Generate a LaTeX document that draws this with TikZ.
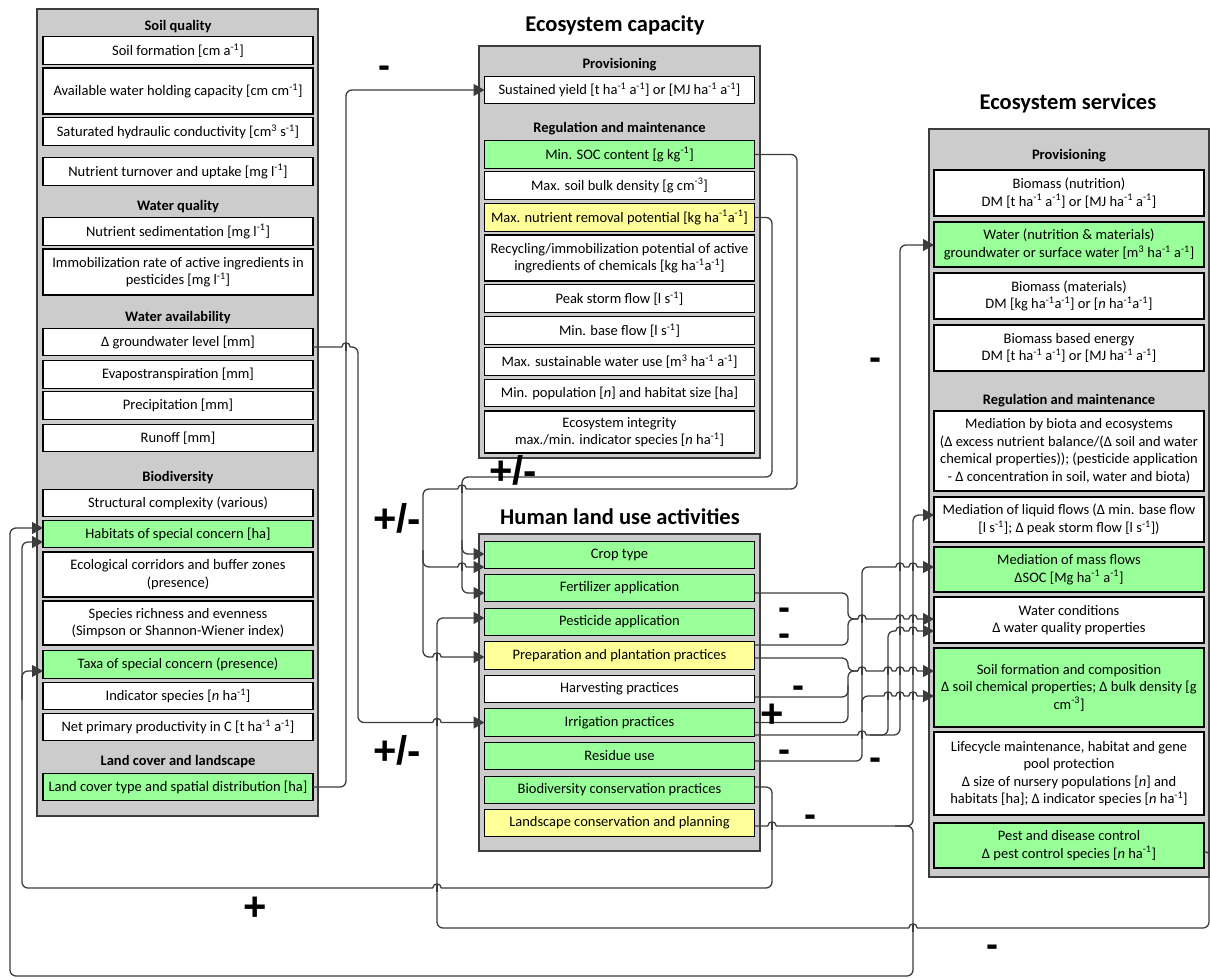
\documentclass[tikz,border=0pt]{standalone}
\usepackage{fontspec}
\setmainfont{Carlito}
\newfontfamily\signfont{Liberation Sans}
\usetikzlibrary{arrows.meta,calc}
\definecolor{grn}{HTML}{99FF99}
\definecolor{ylw}{HTML}{FFFF99}
\definecolor{pnl}{HTML}{CCCCCC}
\definecolor{ln}{HTML}{3C3C3C}
\newcommand{\supm}[1]{\textsuperscript{-#1}}
\newcommand{\supp}[1]{\textsuperscript{#1}}
% line jump: the horizontal line hops over a vertical one at (x,y)
\newcommand{\hop}[2]{%
  \draw[white, line width=3pt] ({#1-3.6},#2) -- ({#1+3.6},#2);
  \draw[conn, rounded corners=0pt] (#1,{#2-3.5}) -- (#1,{#2+3.5});
  \draw[conn, rounded corners=0pt] ({#1-4.2},#2) .. controls ({#1-4.2},{#2-5.5}) and ({#1+4.2},{#2-5.5}) .. ({#1+4.2},#2);}
\begin{document}
\begin{tikzpicture}[x=1pt,y=-1pt,
  box/.style={draw=black, fill=white, line width=1.3pt, minimum width=270pt,
    inner xsep=2pt, inner ysep=0pt, outer sep=0pt, align=center,
    font=\fontsize{14.5}{17.5}\selectfont},
  hdr/.style={font=\bfseries\fontsize{14.5}{17.5}\selectfont, inner sep=0pt},
  ttl/.style={font=\bfseries\fontsize{22.5}{26}\selectfont, inner sep=0pt},
  panel/.style={draw=ln, fill=pnl, line width=1.2pt, inner sep=0pt, outer sep=0pt},
  conn/.style={draw=ln, line width=1.3pt, rounded corners=6pt},
  arr/.style={conn, -{Triangle[length=11pt,width=12pt]}},
  sign/.style={font=\signfont\bfseries\fontsize{40}{40}\selectfont, inner sep=0pt, text=black},
  minus/.style={font=\signfont\bfseries\fontsize{36}{26}\selectfont, inner sep=0pt, text=black}]
\useasboundingbox (0,0) rectangle (1210,978);

% ---------- panels ----------
\node[panel, minimum width=281pt, minimum height=807pt] (pL) at (177.5,412.5) {};
\node[panel, minimum width=281pt, minimum height=412pt] (pC) at (619.5,252) {};
\node[panel, minimum width=281pt, minimum height=317pt] (pH) at (619.5,692.5) {};
\node[panel, minimum width=280pt, minimum height=748pt] (pS) at (1069,503) {};

% ---------- titles ----------
\node[ttl] (tC) at (615,25) {Ecosystem capacity};
\node[ttl] (tH) at (620,517) {Human land use activities};
\node[ttl] (tS) at (1068,103) {Ecosystem services};

% ---------- indicators (left column) ----------
\node[hdr] (hSQ) at (178,27) {Soil quality};
\node[box, minimum height=27.5pt] (sf) at (178,50.5) {Soil formation [cm a\supm1]};
\node[box, minimum height=46pt] (awc) at (178,91) {Available water holding capacity [cm cm\supm1]};
\node[box, minimum height=27.5pt] (shc) at (178,131.5) {Saturated hydraulic conductivity [cm\supp3 s\supm1]};
\node[box, minimum height=27.5pt] (ntu) at (178,171.5) {Nutrient turnover and uptake [mg l\supm1]};
\node[hdr] (hWQ) at (178,207) {Water quality};
\node[box, minimum height=27.5pt] (ns) at (178,231.5) {Nutrient sedimentation [mg l\supm1]};
\node[box, minimum height=46pt] (ira) at (178,272) {Immobilization rate of active ingredients in\\pesticides [mg l\supm1]};
\node[hdr] (hWA) at (178,318) {Water availability};
\node[box, minimum height=27.5pt] (gw) at (178,342) {Δ groundwater level [mm]};
\node[box, minimum height=27.5pt] (evap) at (178,374.5) {Evapostranspiration [mm]};
\node[box, minimum height=27.5pt] (prec) at (178,405.5) {Precipitation [mm]};
\node[box, minimum height=27.5pt] (ro) at (178,438) {Runoff [mm]};
\node[hdr] (hBD) at (178,478) {Biodiversity};
\node[box, minimum height=27.5pt] (sc) at (178,503) {Structural complexity (various)};
\node[box, fill=grn, minimum height=27.5pt] (hsc) at (178,534) {Habitats of special concern [ha]};
\node[box, minimum height=45pt] (eco) at (178,574.5) {Ecological corridors and buffer zones\\(presence)};
\node[box, minimum height=44pt] (sre) at (178,623) {Species richness and evenness\\(Simpson or Shannon-Wiener index)};
\node[box, fill=grn, minimum height=27.5pt] (tsc) at (178,664.5) {Taxa of special concern (presence)};
\node[box, minimum height=27.5pt] (ind) at (178,696) {Indicator species [\textit{n} ha\supm1]};
\node[box, minimum height=27.5pt] (npp) at (178,727) {Net primary productivity in C [t ha\supm1 a\supm1]};
\node[hdr] (hLC) at (178,762) {Land cover and landscape};
\node[box, fill=grn, minimum height=27.5pt] (lc) at (178,787) {Land cover type and spatial distribution [ha]};

% ---------- ecosystem capacity ----------
\node[hdr] (hCP) at (619.5,65) {Provisioning};
\node[box, minimum height=27.5pt] (sy) at (619.5,90) {Sustained yield [t ha\supm1 a\supm1] or [MJ ha\supm1 a\supm1]};
\node[hdr] (hCR) at (619.5,129) {Regulation and maintenance};
\node[box, fill=grn, minimum height=27.5pt] (soc) at (619.5,154.5) {Min. SOC content [g kg\supm1]};
\node[box, minimum height=27.5pt] (bd) at (619.5,185.5) {Max. soil bulk density [g cm\supm3]};
\node[box, fill=ylw, minimum height=27.5pt] (nrp) at (619.5,217.5) {Max. nutrient removal potential [kg ha\supm1a\supm1]};
\node[box, minimum height=46pt] (rip) at (619.5,258) {Recycling/immobilization potential of active\\ingredients of chemicals [kg ha\supm1a\supm1]};
\node[box, minimum height=27.5pt] (psf) at (619.5,298.5) {Peak storm flow [l s\supm1]};
\node[box, minimum height=27.5pt] (mbf) at (619.5,330.5) {Min. base flow [l s\supm1]};
\node[box, minimum height=27.5pt] (msw) at (619.5,361.5) {Max. sustainable water use [m\supp3 ha\supm1 a\supm1]};
\node[box, minimum height=27.5pt] (mpop) at (619.5,393) {Min. population [\textit{n}] and habitat size [ha]};
\node[box, minimum height=42pt] (ei) at (619.5,432) {Ecosystem integrity\\max./min. indicator species [\textit{n} ha\supm1]};

% ---------- human land use activities ----------
\node[box, fill=grn, minimum height=27.5pt] (crop) at (619.5,555) {Crop type};
\node[box, fill=grn, minimum height=27.5pt] (fert) at (619.5,588) {Fertilizer application};
\node[box, fill=grn, minimum height=27.5pt] (pest) at (619.5,622) {Pesticide application};
\node[box, fill=ylw, minimum height=27.5pt] (prep) at (619.5,655.5) {Preparation and plantation practices};
\node[box, minimum height=27.5pt] (harv) at (619.5,689) {Harvesting practices};
\node[box, fill=grn, minimum height=27.5pt] (irr) at (619.5,722.5) {Irrigation practices};
\node[box, fill=grn, minimum height=27.5pt] (res) at (619.5,756) {Residue use};
\node[box, fill=grn, minimum height=27.5pt] (bcp) at (619.5,790) {Biodiversity conservation practices};
\node[box, fill=ylw, minimum height=27.5pt] (lcp) at (619.5,823) {Landscape conservation and planning};

% ---------- ecosystem services ----------
\node[hdr] (hSP) at (1069,156) {Provisioning};
\node[box, minimum height=46pt] (bn) at (1069,193) {Biomass (nutrition)\\DM [t ha\supm1 a\supm1] or [MJ ha\supm1 a\supm1]};
\node[box, fill=grn, minimum height=45pt] (wat) at (1069,244.5) {Water (nutrition \& materials)\\groundwater or surface water [m\supp3 ha\supm1 a\supm1]};
\node[box, minimum height=46pt] (bm) at (1069,296) {Biomass (materials)\\DM [kg ha\supm1a\supm1] or [\textit{n} ha\supm1a\supm1]};
\node[box, minimum height=46pt] (be) at (1069,348) {Biomass based energy\\DM [t ha\supm1 a\supm1] or [MJ ha\supm1 a\supm1]};
\node[hdr] (hSR) at (1069,401) {Regulation and maintenance};
\node[box, minimum height=80pt] (mbe) at (1069,451) {Mediation by biota and ecosystems\\(Δ excess nutrient balance/(Δ soil and water\\chemical properties)); (pesticide application\\- Δ concentration in soil, water and biota)};
\node[box, minimum height=45pt] (mlf) at (1069,519.5) {Mediation of liquid flows (Δ min. base flow\\{}[l s\supm1]; Δ peak storm flow [l s\supm1])};
\node[box, fill=grn, minimum height=45pt] (mmf) at (1069,569.5) {Mediation of mass flows\\ΔSOC [Mg ha\supm1 a\supm1]};
\node[box, minimum height=46pt] (wc) at (1069,620) {Water conditions\\Δ water quality properties};
\node[box, fill=grn, minimum height=79pt] (sfc) at (1069,687.5) {Soil formation and composition\\Δ soil chemical properties; Δ bulk density [g\\cm\supm3]};
\node[box, minimum height=83pt] (lm) at (1069,773.5) {Lifecycle maintenance, habitat and gene\\pool protection\\Δ size of nursery populations [\textit{n}] and\\habitats [ha]; Δ indicator species [\textit{n} ha\supm1]};
\node[box, fill=grn, minimum height=45pt] (pdc) at (1069,845.5) {Pest and disease control\\Δ pest control species [\textit{n} ha\supm1]};

% ---------- connectors ----------
% land cover -> sustained yield
\draw[arr] (lc.east) -- (346,787) -- (346,90) -- (sy.west);
% groundwater -> irrigation
\draw[arr] ($(gw.east)+(0,5)$) -- (358,347) -- (358,722.5) -- (irr.west);
% nutrient removal potential -> crop type, fertilizer
\draw[arr] (nrp.east) -- (772,217.5) -- (772,477) -- (462,477) -- (462,554) -- ($(crop.west)+(0,-1)$);
\draw[arr] (462,540) -- (462,593) -- ($(fert.west)+(0,5)$);
% SOC content -> crop type, preparation
\draw[arr] (soc.east) -- (797,154.5) -- (797,489) -- (423,489) -- (423,567) -- ($(crop.west)+(0,12)$);
\draw[arr] (423,550) -- (423,657) -- ($(prep.west)+(0,1.5)$);
% pest control -> pesticide application
\draw[arr, rounded corners=3pt] ($(pdc.east)+(0,6.5)$) -- (1209,852) [rounded corners=6pt] -- (1209,928) -- (437,928) -- (437,618) -- ($(pest.west)+(0,-4)$);
% biodiversity conservation -> habitats, taxa
\draw[arr] ($(bcp.east)+(0,-3)$) -- (772,787) -- (772,888) -- (22,888) -- (22,542) -- ($(hsc.west)+(0,8)$);
\draw[arr] (22,700) -- (22,671) -- ($(tsc.west)+(0,6.5)$);
% landscape conservation -> liquid flows, habitats
\draw[arr] ($(lcp.east)+(0,3)$) -- (913,826) -- (913,515) -- ($(mlf.west)+(0,-4.5)$);
\draw[arr] (895,826) -- (913,826) -- (913,976) -- (10,976) -- (10,528) -- ($(hsc.west)+(0,-6)$);
% irrigation -> water conditions, water provisioning
\draw[arr] ($(irr.east)+(0,12.5)$) -- (888,735) -- (888,631) -- ($(wc.west)+(0,11)$);
\draw[arr] (870,735) -- (900,735) -- (900,245) -- ($(wat.west)+(0,0.5)$);
% fertilizer, preparation -> water conditions
\draw[arr] ($(fert.east)+(0,5)$) -- (848,593) -- (848,619) -- ($(wc.west)+(0,-1)$);
\draw[conn] ($(prep.east)+(0,-10.5)$) -- (848,645) -- (848,619) -- (865,619);
% preparation, harvesting, irrigation -> soil formation
\draw[arr] ($(prep.east)+(0,2.5)$) -- (848,658) -- (848,671) -- ($(sfc.west)+(0,-16.5)$);
\draw[conn] ($(harv.east)+(0,8)$) -- (848,697) -- (848,671) -- (865,671);
\draw[conn] (irr.east) -- (848,722.5) -- (848,685);
% residue use -> mass flows, soil formation
\draw[arr] ($(res.east)+(0,5)$) -- (862,761) -- (862,567) -- ($(mmf.west)+(0,-2.5)$);
\draw[arr] (862,712) -- (862,696) -- ($(sfc.west)+(0,8.5)$);

% line jumps
\hop{346}{347}
\hop{462}{489}
\hop{462}{567}
\hop{437}{657}
\hop{437}{722.5}
\hop{437}{888}
\hop{913}{928}
\hop{772}{826}
\hop{900}{567}\hop{913}{567}
\hop{862}{619}\hop{900}{619}\hop{913}{619}
\hop{900}{631}\hop{913}{631}
\hop{862}{671}\hop{888}{671}\hop{900}{671}\hop{913}{671}
\hop{888}{696}\hop{900}{696}\hop{913}{696}
\hop{862}{735}

% ---------- signs ----------
\node[minus] (g1) at (384,72) {-};
\node[sign] (g2) at (513,470) {+/-};
\node[sign] (g3) at (397,518) {+/-};
\node[sign] (g4) at (397,750) {+/-};
\node[sign] (g5) at (255,909) {+};
\node[minus] (g6) at (875,364) {-};
% the two signs of the fertilizer and preparation links, stacked
\node[minus, align=center] (g7) at (784,627) {-\\-};
\node[minus] (g9) at (798,692) {-};
\node[sign] (g10) at (772,716) {+};
\node[minus] (g11) at (784,756) {-};
\node[minus] (g12) at (875,764) {-};
\node[minus] (g13) at (810,821) {-};
\node[minus] (g14) at (992,951) {-};
\end{tikzpicture}
\end{document}
